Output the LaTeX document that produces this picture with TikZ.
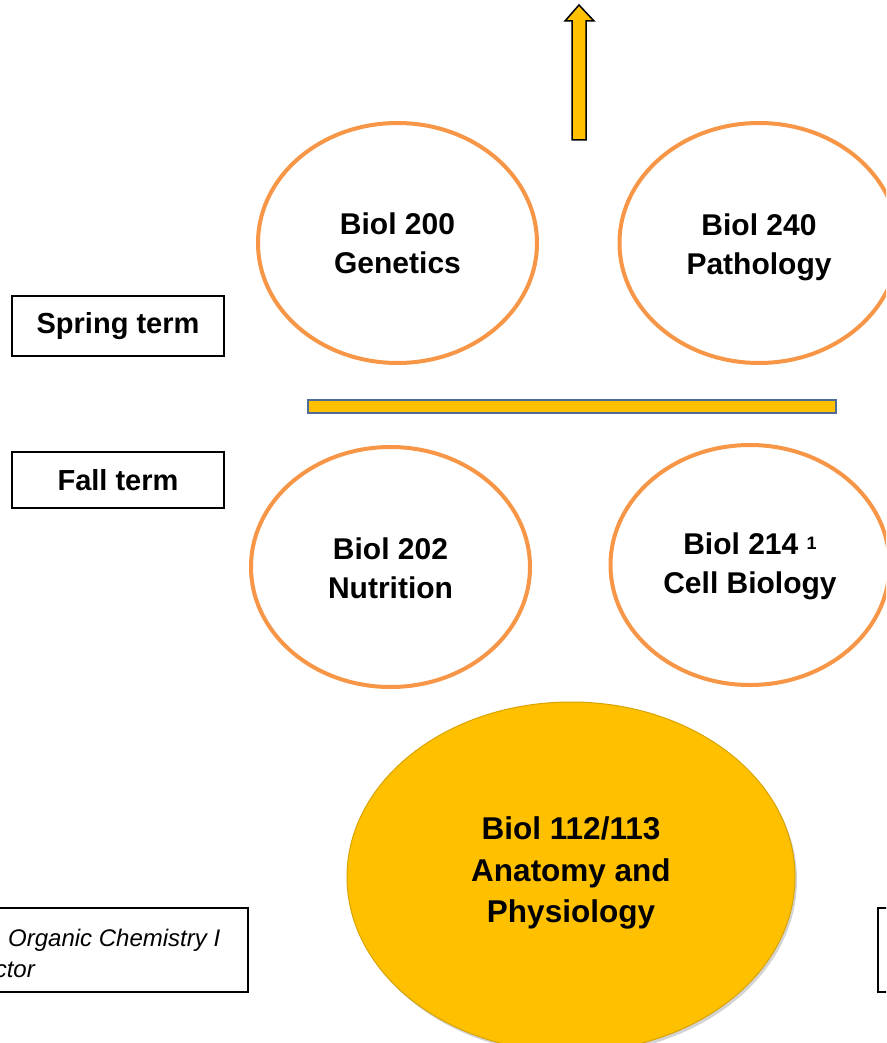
\documentclass[tikz,border=0pt]{standalone}
\usepackage{fontspec}
\setmainfont{Liberation Sans}
\usetikzlibrary{shapes.geometric,shadows}
\definecolor{gold}{HTML}{FFC000}
\definecolor{ringorange}{HTML}{F79646}
\definecolor{barblue}{HTML}{4F6D9A}
\tikzset{
  course/.style={ellipse, draw=ringorange, line width=4pt, fill=white,
    inner sep=0pt, minimum width=279pt, minimum height=240pt},
  coursetext/.style={align=center, inner sep=0pt, text depth=0pt,
    font=\bfseries\fontsize{30}{38.5}\selectfont},
  term/.style={draw=black, line width=1.8pt, minimum width=212pt, inner sep=0pt,
    font=\bfseries\fontsize{29}{32}\selectfont},
  core/.style={ellipse, draw=gold!85!black, line width=1pt, fill=gold,
    inner sep=0pt, minimum width=448pt, minimum height=350pt,
    drop shadow={shadow xshift=2pt, shadow yshift=-3pt, opacity=0.35}},
  coretext/.style={align=center, inner sep=0pt, text depth=0pt,
    font=\bfseries\fontsize{31.5}{41.5}\selectfont},
  note/.style={font=\itshape\fontsize{24}{28}\selectfont, inner sep=0pt}
}
\begin{document}
\begin{tikzpicture}[x=1pt, y=-1pt]
  \useasboundingbox (0,0) rectangle (886,1043);
  \clip (0,0) rectangle (886,1043);
  % upward block arrow
  \draw[fill=gold, line width=1.5pt, line join=miter]
    (572,140) -- (572,21) -- (565,21) -- (579,5) -- (594,21) -- (586,21) -- (586,140) -- cycle;
  % spring term courses
  \node[course] (genetics) at (397.5,243) {};
  \node[coursetext] (geneticsLbl) at (genetics.center) {Biol 200\\Genetics};
  \node[course] (pathology) at (759,243) {};
  \node[coursetext] (pathologyLbl) at ([yshift=-1pt]pathology.center) {Biol 240\\Pathology};
  \node[term, minimum height=60pt] (spring) at (118,326) {Spring term};
  % divider between terms
  \draw[fill=gold, draw=barblue, line width=1.5pt] (308,400) rectangle (836,413);
  % fall term courses
  \node[term, minimum height=56pt] (fall) at (118,480) {Fall term};
  \node[course] (nutrition) at (390.5,567) {};
  \node[coursetext] (nutritionLbl) at ([yshift=-1pt]nutrition.center) {Biol 202\\Nutrition};
  \node[course] (cellbio) at (750,565) {};
  \node[coursetext] (cellbioLbl) at ([yshift=2pt]cellbio.center)
    {Biol 214 \raisebox{5.5pt}{\fontsize{18}{18}\selectfont 1}\\Cell Biology};
  % prerequisite
  \node[core] (anatomy) at (571,877) {};
  \node[coretext] (anatomyLbl) at ([yshift=7pt]anatomy.center) {Biol 112/113\\Anatomy and\\Physiology};
  % side notes, cut by the page edge
  \draw[line width=1.8pt] (-5,908) -- (248,908) -- (248,992) -- (-5,992);
  \node[note, anchor=base west] (chem) at (8,946) {Organic Chemistry I};
  \node[note, anchor=base east] (instr) at (35,977) {ctor};
  \draw[line width=1.8pt] (895,908) -- (878,908) -- (878,992) -- (895,992);
\end{tikzpicture}
\end{document}
